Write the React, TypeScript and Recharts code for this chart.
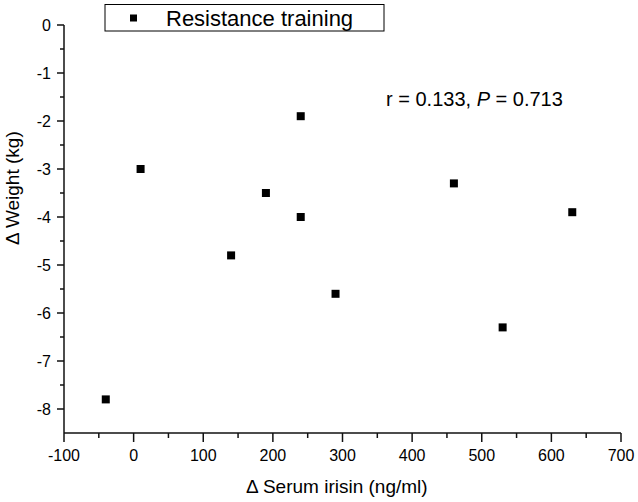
import React from 'react';
import { ScatterChart, Scatter, XAxis, YAxis } from 'recharts';

const xValues = [-40, 10, 140, 190, 240, 240, 290, 460, 530, 630];
const yValues = [-7.8, -3.0, -4.8, -3.5, -1.9, -4.0, -5.6, -3.3, -6.3, -3.9];
const xTicks = [-100, -50, 0, 50, 100, 150, 200, 250, 300, 350, 400, 450, 500, 550, 600, 650, 700];
const yTicks = [0, -0.5, -1, -1.5, -2, -2.5, -3, -3.5, -4, -4.5, -5, -5.5, -6, -6.5, -7, -7.5, -8];
const seriesName = 'Resistance training';
const xTitle = 'Δ Serum irisin (ng/ml)';
const yTitle = 'Δ Weight (kg)';

const data = xValues.map((x, i) => ({ x, y: yValues[i] }));

const FONT = '"Liberation Sans", Arial, Helvetica, sans-serif';
const AXIS = '#111';

const XTick = (props: any) => {
  const { x, y, payload } = props;
  const v = payload.value;
  const major = v % 100 === 0;
  return (
    <g>
      <line x1={x} x2={x} y1={y} y2={y + (major ? 9 : 5)} stroke={AXIS} strokeWidth={1.5} />
      {major && (
        <text x={x} y={y + 28} textAnchor="middle" fontFamily={FONT} fontSize={16} fill="#000">
          {v}
        </text>
      )}
    </g>
  );
};

const YTick = (props: any) => {
  const { x, y, payload } = props;
  const v = payload.value;
  const major = Number.isInteger(v);
  return (
    <g>
      <line x1={x - (major ? 7 : 4)} x2={x} y1={y} y2={y} stroke={AXIS} strokeWidth={1.5} />
      {major && (
        <text x={x - 13} y={y + 6} textAnchor="end" fontFamily={FONT} fontSize={16} fill="#000">
          {v}
        </text>
      )}
    </g>
  );
};

const Square = (props: any) => {
  const { cx, cy } = props;
  return <rect x={cx - 4} y={cy - 4} width={8} height={8} fill="#000" />;
};

export default function App() {
  return (
    <div style={{ position: 'absolute', left: 0, top: 0, width: 638, height: 502, background: '#fff' }}>
      <ScatterChart width={638} height={502} margin={{ top: 25, right: 17, bottom: 0, left: 0 }}>
        <XAxis
          type="number"
          dataKey="x"
          domain={[-100, 700]}
          ticks={xTicks}
          interval={0}
          height={69}
          axisLine={{ stroke: AXIS, strokeWidth: 1.5 }}
          tickLine={false}
          tickSize={0}
          tickMargin={0}
          tick={<XTick />}
        />
        <YAxis
          type="number"
          dataKey="y"
          domain={[-8.5, 0]}
          ticks={yTicks}
          interval={0}
          width={64}
          axisLine={{ stroke: AXIS, strokeWidth: 1.5 }}
          tickLine={false}
          tickSize={0}
          tickMargin={0}
          tick={<YTick />}
        />
        <Scatter name={seriesName} data={data} shape={<Square />} isAnimationActive={false} />
      </ScatterChart>
      <svg
        width={638}
        height={502}
        style={{ position: 'absolute', left: 0, top: 0, pointerEvents: 'none' }}
      >
        <rect x={105} y={4.5} width={279} height={26.5} fill="#fff" stroke="#000" strokeWidth={1} />
        <rect x={130} y={14.5} width={7} height={7} fill="#000" />
        <text x={166} y={26} fontFamily={FONT} fontSize={22} fill="#000">
          {seriesName}
        </text>
        <text x={386} y={106} fontFamily={FONT} fontSize={20} fill="#000">
          r = 0.133, <tspan fontStyle="italic">P</tspan> = 0.713
        </text>
        <text x={246} y={493} fontFamily={FONT} fontSize={19} fill="#000">
          {xTitle}
        </text>
        <text
          x={19}
          y={245}
          fontFamily={FONT}
          fontSize={19}
          fill="#000"
          transform="rotate(-90, 19, 245)"
        >
          {yTitle}
        </text>
      </svg>
    </div>
  );
}
